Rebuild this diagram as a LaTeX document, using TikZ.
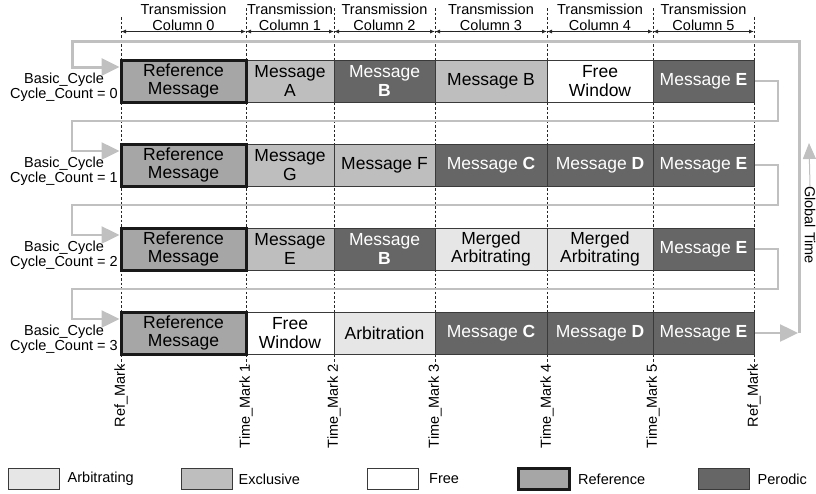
\documentclass[tikz,border=0pt]{standalone}
\usepackage{fontspec}
\setmainfont{Liberation Sans}
\usetikzlibrary{arrows.meta}
\definecolor{arbc}{HTML}{E6E6E6}
\definecolor{exclc}{HTML}{BEBEBE}
\definecolor{refc}{HTML}{A6A6A6}
\definecolor{perc}{HTML}{666666}
\definecolor{loopc}{HTML}{C0C0C0}
\definecolor{edgec}{HTML}{3A3A3A}
\begin{document}
\begin{tikzpicture}[x=1pt,y=-1pt,
  cell/.style={draw=edgec, line width=1pt, inner sep=0pt, minimum height=42pt,
    align=center, font=\fontsize{17.5}{18.5}\selectfont},
  arb/.style={cell, fill=arbc},
  excl/.style={cell, fill=exclc},
  free/.style={cell, fill=white},
  refm/.style={cell, fill=refc, draw=black!90, line width=3pt},
  per/.style={cell, fill=perc, text=white},
  w0/.style={minimum width=125pt},
  w1/.style={minimum width=88pt},
  w2/.style={minimum width=101pt},
  w3/.style={minimum width=112pt},
  w4/.style={minimum width=106pt},
  w5/.style={minimum width=101pt},
  small/.style={font=\fontsize{14.5}{16}\selectfont, inner sep=0pt},
  cyclabel/.style={font=\fontsize{14.5}{13.5}\selectfont, align=center, anchor=east, inner sep=0pt},
  dashline/.style={draw=black!85, line width=0.8pt, dash pattern=on 2.5pt off 2pt},
  dimline/.style={draw=black!85, line width=0.8pt,
    {Latex[length=5pt,width=4pt]}-{Latex[length=5pt,width=4pt]}},
  loopline/.style={draw=loopc, line width=3pt},
  rowline/.style={draw=loopc, line width=2.5pt},
  bigtip/.style={-{Triangle[length=18pt,width=17pt]}, loopc},
  legbox/.style={draw=edgec, line width=1pt, minimum width=51pt, minimum height=21pt, inner sep=0pt},
]
\useasboundingbox (0,0) rectangle (816,493);

% column boundaries (dashed guides)
\foreach \x/\t in {121/17,246/8,334/8,435/8,547/8,653/8,754/17}
  \draw[dashline] (\x,\t) -- (\x,366);

% column headers and extent arrows
\node[small, align=center] (h0) at (183.5,17) {Transmission\\Column 0};
\node[small, align=center] (h1) at (290,17) {Transmission\\Column 1};
\node[small, align=center] (h2) at (384.5,17) {Transmission\\Column 2};
\node[small, align=center] (h3) at (491,17) {Transmission\\Column 3};
\node[small, align=center] (h4) at (600,17) {Transmission\\Column 4};
\node[small, align=center] (h5) at (703.5,17) {Transmission\\Column 5};
\draw[dimline] (121,31.5) -- (246,31.5);
\draw[dimline] (246,31.5) -- (334,31.5);
\draw[dimline] (334,31.5) -- (435,31.5);
\draw[dimline] (435,31.5) -- (547,31.5);
\draw[dimline] (547,31.5) -- (653,31.5);
\draw[dimline] (653,31.5) -- (754,31.5);

% row 0
\node[excl, w1] (c0-1) at (290,81) {Message\\A};
\node[per, w2] (c0-2) at (384.5,81) {Message\\\textbf{B}};
\node[excl, w3] (c0-3) at (491,81) {Message B};
\node[free, w4] (c0-4) at (600,81) {Free\\Window};
\node[per, w5] (c0-5) at (703.5,81) {Message \textbf{E}};
\node[refm, w0] (c0-0) at (183.5,81) {Reference\\Message};
% row 1
\node[excl, w1] (c1-1) at (290,165) {Message\\G};
\node[excl, w2] (c1-2) at (384.5,165) {Message F};
\node[per, w3] (c1-3) at (491,165) {Message \textbf{C}};
\node[per, w4] (c1-4) at (600,165) {Message \textbf{D}};
\node[per, w5] (c1-5) at (703.5,165) {Message \textbf{E}};
\node[refm, w0] (c1-0) at (183.5,165) {Reference\\Message};
% row 2
\node[excl, w1] (c2-1) at (290,249) {Message\\E};
\node[per, w2] (c2-2) at (384.5,249) {Message\\\textbf{B}};
\node[arb, w3] (c2-3) at (491,249) {Merged\\Arbitrating};
\node[arb, w4] (c2-4) at (600,249) {Merged\\Arbitrating};
\node[per, w5] (c2-5) at (703.5,249) {Message \textbf{E}};
\node[refm, w0] (c2-0) at (183.5,249) {Reference\\Message};
% row 3
\node[free, w1] (c3-1) at (290,333) {Free\\Window};
\node[arb, w2] (c3-2) at (384.5,333) {Arbitration};
\node[per, w3] (c3-3) at (491,333) {Message \textbf{C}};
\node[per, w4] (c3-4) at (600,333) {Message \textbf{D}};
\node[per, w5] (c3-5) at (703.5,333) {Message \textbf{E}};
\node[refm, w0] (c3-0) at (183.5,333) {Reference\\Message};

% cycle labels
\node[cyclabel] (b0) at (118,87) {Basic\_Cycle\\Cycle\_Count = 0};
\node[cyclabel] (b1) at (118,171) {Basic\_Cycle\\Cycle\_Count = 1};
\node[cyclabel] (b2) at (118,255) {Basic\_Cycle\\Cycle\_Count = 2};
\node[cyclabel] (b3) at (118,339) {Basic\_Cycle\\Cycle\_Count = 3};

% cycle-to-cycle flow
\coordinate (rt) at (799,333);
\draw[rowline, bigtip] (c0-5.east) -- (778,81) -- (778,121) -- (72,121) -- (72,151) -- (c1-0.west |- 0,151);
\draw[rowline, bigtip] (c1-5.east) -- (778,165) -- (778,205) -- (72,205) -- (72,235) -- (c2-0.west |- 0,235);
\draw[rowline, bigtip] (c2-5.east) -- (778,249) -- (778,289) -- (72,289) -- (72,319) -- (c3-0.west |- 0,319);
\draw[rowline, bigtip] (c3-5.east) -- ([xshift=-1pt]rt);
\draw[loopline, bigtip] (rt) -- (799,41) -- (72,41) -- (72,67) -- (c0-0.west |- 0,67);

% global time
\node[small, rotate=-90] (gt) at (810,225) {Global Time};
\draw[draw=loopc, line width=1pt, -{Triangle[length=16pt,width=13pt]}, loopc] (gt.west) -- (809,143);

% time marks
\node[small, rotate=90, anchor=east] (m0) at (121,364) {Ref\_Mark};
\node[small, rotate=90, anchor=east] (m1) at (246,364) {Time\_Mark 1};
\node[small, rotate=90, anchor=east] (m2) at (334,364) {Time\_Mark 2};
\node[small, rotate=90, anchor=east] (m3) at (435,364) {Time\_Mark 3};
\node[small, rotate=90, anchor=east] (m4) at (547,364) {Time\_Mark 4};
\node[small, rotate=90, anchor=east] (m5) at (653,364) {Time\_Mark 5};
\node[small, rotate=90, anchor=east] (m6) at (754,364) {Ref\_Mark};

% legend
\node[legbox, fill=arbc] (l0) at (33.5,479) {};
\node[small, anchor=west] (t0) at ([xshift=8pt]l0.east) {Arbitrating};
\node[legbox, fill=exclc] (l1) at (206.5,479) {};
\node[small, anchor=west] (t1) at ([xshift=6pt]l1.east) {Exclusive};
\node[legbox, fill=white] (l2) at (393,479) {};
\node[small, anchor=west] (t2) at ([xshift=10pt]l2.east) {Free};
\node[legbox, fill=refc, draw=black!90, line width=3pt] (l3) at (544,479) {};
\node[small, anchor=west] (t3) at ([xshift=7pt]l3.east) {Reference};
\node[legbox, fill=perc] (l4) at (723.5,479) {};
\node[small, anchor=west] (t4) at ([xshift=8pt]l4.east) {Perodic};
\end{tikzpicture}
\end{document}
